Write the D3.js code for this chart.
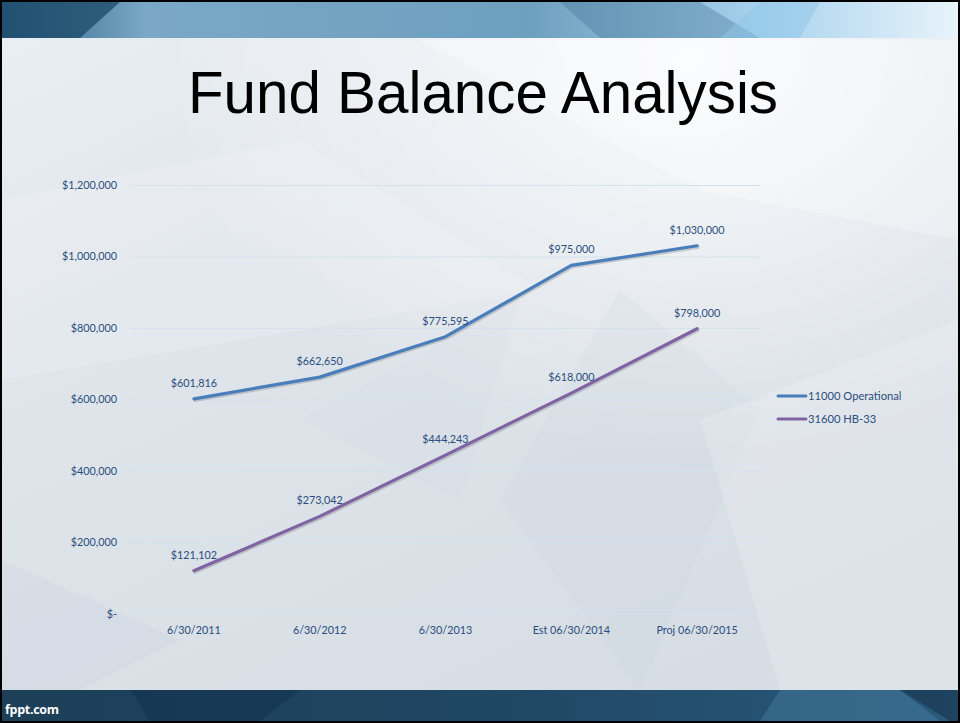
<!DOCTYPE html>
<html>
<head>
<meta charset="utf-8">
<script src="https://cdn.jsdelivr.net/npm/d3@7"></script>
<style>
  html, body { margin: 0; padding: 0; background: #000; }
  svg { display: block; }
</style>
</head>
<body>
<svg id="chart" width="960" height="723"></svg>
<script>
// ---- data ----
const categories = ["6/30/2011", "6/30/2012", "6/30/2013", "Est 06/30/2014", "Proj 06/30/2015"];
const seriesNames = ["11000 Operational", "31600 HB-33"];
const operational = [601816, 662650, 775595, 975000, 1030000];
const hb33 = [121102, 273042, 444243, 618000, 798000];
const yTicks = [0, 200000, 400000, 600000, 800000, 1000000, 1200000];
const seriesColors = ["#4a7ebb", "#8064a2"];
const titleText = "Fund Balance Analysis";
const footerText = "fppt.com";

const svg = d3.select("#chart");
const W = 960, H = 723;

// ---- background ----
const defs = svg.append("defs");
const bg = defs.append("linearGradient").attr("id", "bg").attr("x1", 0).attr("y1", 0).attr("x2", 0.6).attr("y2", 1);
bg.append("stop").attr("offset", 0).attr("stop-color", "#eaeff3");
bg.append("stop").attr("offset", 0.4).attr("stop-color", "#dfe5eb");
bg.append("stop").attr("offset", 1).attr("stop-color", "#d6dde4");
const topG = defs.append("linearGradient").attr("id", "topg").attr("x1", 0).attr("y1", 0).attr("x2", 1).attr("y2", 0);
topG.append("stop").attr("offset", 0).attr("stop-color", "#2b5f80");
topG.append("stop").attr("offset", 0.15).attr("stop-color", "#7aa8c6");
topG.append("stop").attr("offset", 0.55).attr("stop-color", "#6f9fbf");
topG.append("stop").attr("offset", 0.8).attr("stop-color", "#a9d3ee");
topG.append("stop").attr("offset", 1).attr("stop-color", "#e8f3fa");
const botG = defs.append("linearGradient").attr("id", "botg").attr("x1", 0).attr("y1", 0).attr("x2", 1).attr("y2", 0);
botG.append("stop").attr("offset", 0).attr("stop-color", "#1d3f58");
botG.append("stop").attr("offset", 0.5).attr("stop-color", "#1f4663");
botG.append("stop").attr("offset", 1).attr("stop-color", "#2a5a7a");
const hl = defs.append("radialGradient").attr("id", "hl").attr("cx", 0.72).attr("cy", 0.08).attr("r", 0.55);
hl.append("stop").attr("offset", 0).attr("stop-color", "#ffffff").attr("stop-opacity", 0.85);
hl.append("stop").attr("offset", 1).attr("stop-color", "#ffffff").attr("stop-opacity", 0);

svg.append("rect").attr("x", 0).attr("y", 0).attr("width", W).attr("height", H).attr("fill", "#000");
const slide = svg.append("g");
slide.append("rect").attr("x", 2).attr("y", 2).attr("width", W - 4).attr("height", H - 4).attr("fill", "url(#bg)");
slide.append("rect").attr("x", 2).attr("y", 2).attr("width", W - 4).attr("height", H - 4).attr("fill", "url(#hl)");

// faint facets
const facets = [
  [[2, 200], [300, 140], [540, 290], [2, 380]],
  [[420, 40], [958, 40], [958, 240], [700, 190]],
  [[500, 500], [620, 290], [760, 410], [640, 690]],
  [[2, 560], [180, 640], [80, 690], [2, 690]],
  [[700, 420], [958, 320], [958, 690], [780, 690]],
  [[300, 420], [520, 300], [460, 500]]
];
const facetFills = ["#ffffff", "#ffffff", "#c9d3dc", "#c6d0da", "#ffffff", "#d0d9e1"];
const facetOps = [0.15, 0.25, 0.18, 0.25, 0.18, 0.15];
slide.selectAll("path.facet").data(facets).join("path")
  .attr("class", "facet")
  .attr("d", d => "M" + d.map(p => p.join(",")).join("L") + "Z")
  .attr("fill", (d, i) => facetFills[i])
  .attr("opacity", (d, i) => facetOps[i]);

// top band
slide.append("rect").attr("x", 2).attr("y", 2).attr("width", W - 4).attr("height", 36).attr("fill", "url(#topg)");
slide.append("path").attr("d", "M2,2L120,2L80,38L2,38Z").attr("fill", "#1f4d6d").attr("opacity", 0.8);
slide.append("path").attr("d", "M560,2L700,2L760,38L600,38Z").attr("fill", "#3f7193").attr("opacity", 0.35);
slide.append("path").attr("d", "M760,2L820,2L800,38L720,38Z").attr("fill", "#8fc6ea").attr("opacity", 0.5);

// bottom band
slide.append("rect").attr("x", 2).attr("y", 690).attr("width", W - 4).attr("height", 31).attr("fill", "url(#botg)");
slide.append("path").attr("d", "M130,690L300,690L260,721L150,721Z").attr("fill", "#10304a").attr("opacity", 0.5);
slide.append("path").attr("d", "M780,690L900,690L940,721L760,721Z").attr("fill", "#4a7fa3").attr("opacity", 0.45);
slide.append("path").attr("d", "M900,690L958,690L958,721L950,721Z").attr("fill", "#17344c").attr("opacity", 0.6);

slide.append("text").attr("x", 5).attr("y", 714)
  .attr("font-family", "'Open Sans', 'DejaVu Sans', sans-serif")
  .attr("font-weight", "bold").attr("font-size", 12.5).attr("fill", "#ffffff")
  .attr("letter-spacing", -0.3)
  .text(footerText);

// title
slide.append("text").attr("x", 483).attr("y", 113).attr("text-anchor", "middle")
  .attr("font-family", "'Liberation Sans', Arial, sans-serif")
  .attr("font-size", 59).attr("fill", "#000").attr("textLength", 590).attr("lengthAdjust", "spacingAndGlyphs")
  .text(titleText);

// ---- chart ----
const plotLeft = 131, plotRight = 760, yTop = 185, yBottom = 614;
const x = d3.scaleBand().domain(categories).range([plotLeft, plotRight]);
const y = d3.scaleLinear().domain([0, 1200000]).range([yBottom, yTop]);
const labelFont = "Lato, 'Open Sans', sans-serif";
const textColor = "#2b4d7e";

const g = svg.append("g");
// gridlines
g.append("g").attr("transform", `translate(${plotLeft},0)`)
  .call(d3.axisLeft(y).tickValues(yTicks).tickSize(-(plotRight - plotLeft)).tickFormat(""))
  .call(a => a.select(".domain").remove())
  .call(a => a.selectAll("line").attr("stroke", "#d3e2ef").attr("stroke-width", 1));

// y labels
const fmt = d3.format(",");
const yLabel = v => v === 0 ? "$-" : "$" + fmt(v);
g.append("g").attr("transform", `translate(117,0)`)
  .call(d3.axisLeft(y).tickValues(yTicks).tickSize(0).tickPadding(0).tickFormat(yLabel))
  .call(a => a.select(".domain").remove())
  .call(a => a.selectAll("text").attr("font-family", labelFont).attr("font-size", 10.8).attr("fill", textColor));

// x labels
g.append("g").attr("transform", `translate(0,${yBottom})`)
  .call(d3.axisBottom(x).tickSize(0).tickPadding(12))
  .call(a => a.select(".domain").remove())
  .call(a => a.selectAll("text").attr("font-family", labelFont).attr("font-size", 10.8).attr("fill", textColor));

// lines
const allSeries = [operational, hb33];
const line = d3.line().x((d, i) => x(categories[i]) + x.bandwidth() / 2).y(d => y(d));
allSeries.forEach((s, si) => {
  g.append("path").datum(s).attr("d", line).attr("fill", "none")
    .attr("stroke", "#000").attr("stroke-opacity", 0.15).attr("stroke-width", 3.4)
    .attr("transform", "translate(1,1.5)").attr("stroke-linejoin", "round").attr("stroke-linecap", "round");
  g.append("path").datum(s).attr("d", line).attr("fill", "none")
    .attr("stroke", seriesColors[si]).attr("stroke-width", 3.2).attr("stroke-linejoin", "round").attr("stroke-linecap", "round");
  g.selectAll(null).data(s).join("text")
    .attr("x", (d, i) => x(categories[i]) + x.bandwidth() / 2)
    .attr("y", d => y(d) - 12)
    .attr("text-anchor", "middle")
    .attr("font-family", labelFont).attr("font-size", 10.8).attr("fill", textColor)
    .text(d => "$" + fmt(d));
});

// legend
const leg = g.append("g").attr("transform", "translate(778,396)");
seriesNames.forEach((n, i) => {
  const r = leg.append("g").attr("transform", `translate(0,${i * 23})`);
  r.append("line").attr("x1", 0).attr("x2", 28).attr("y1", 0).attr("y2", 0)
    .attr("stroke", seriesColors[i]).attr("stroke-width", 3).attr("stroke-linecap", "round");
  r.append("text").attr("x", 30).attr("y", 4).attr("font-family", labelFont)
    .attr("font-size", 11.2).attr("fill", textColor).text(n);
});
</script>
</body>
</html>
